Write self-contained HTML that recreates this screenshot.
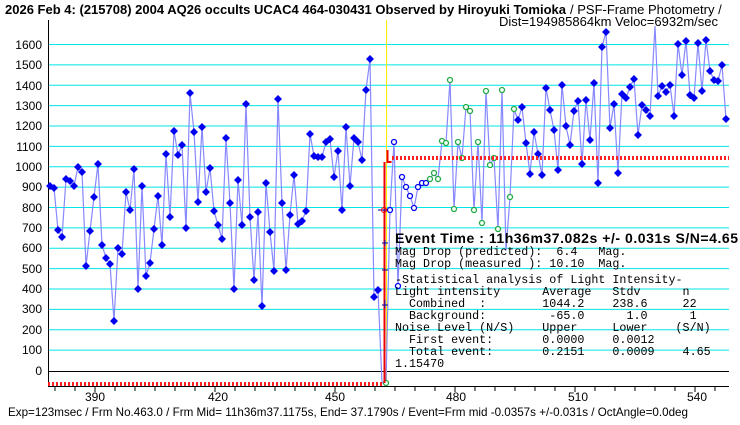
<!DOCTYPE html>
<html><head><meta charset="utf-8"><style>
body{margin:0;background:#fff;width:740px;height:425px;overflow:hidden}
svg{display:block}
text{font-family:"Liberation Sans",sans-serif}
.m text{font-family:"Liberation Mono",monospace;font-size:11.7px}
.m text.b{font-family:"Liberation Sans",sans-serif;font-size:14px;font-weight:bold}
</style></head><body>
<svg width="740" height="425" viewBox="0 0 740 425" xmlns="http://www.w3.org/2000/svg">
<rect width="740" height="425" fill="#fff"/>
<text x="5" y="14" font-size="13" font-weight="bold" textLength="561" lengthAdjust="spacing">2026 Feb 4: (215708) 2004 AQ26 occults UCAC4 464-030431 Observed by Hiroyuki Tomioka</text>
<text x="570" y="14" font-size="13">/ PSF-Frame Photometry /</text>
<text x="718" y="26" font-size="13" text-anchor="end">Dist=194985864km Veloc=6932m/sec</text>
<g stroke="#00e5e5" stroke-width="1">
<line x1="48" x2="729" y1="44.5" y2="44.5"/><line x1="48" x2="729" y1="64.9" y2="64.9"/><line x1="48" x2="729" y1="85.3" y2="85.3"/><line x1="48" x2="729" y1="105.6" y2="105.6"/><line x1="48" x2="729" y1="126" y2="126"/><line x1="48" x2="729" y1="146.4" y2="146.4"/><line x1="48" x2="729" y1="166.8" y2="166.8"/><line x1="48" x2="729" y1="187.1" y2="187.1"/><line x1="48" x2="729" y1="207.5" y2="207.5"/><line x1="48" x2="729" y1="227.9" y2="227.9"/><line x1="48" x2="729" y1="248.3" y2="248.3"/><line x1="48" x2="729" y1="268.6" y2="268.6"/><line x1="48" x2="729" y1="289" y2="289"/><line x1="48" x2="729" y1="309.4" y2="309.4"/><line x1="48" x2="729" y1="329.8" y2="329.8"/><line x1="48" x2="729" y1="350.1" y2="350.1"/>
</g>
<line x1="48" x2="729" y1="371.5" y2="371.5" stroke="#000"/>
<line x1="48" x2="729" y1="386.5" y2="386.5" stroke="#000"/>
<line x1="48.5" x2="48.5" y1="20" y2="386" stroke="#000"/>
<g font-size="12" text-anchor="end">
<text x="42" y="49">1600</text><text x="42" y="69">1500</text><text x="42" y="90">1400</text><text x="42" y="110">1300</text><text x="42" y="130">1200</text><text x="42" y="151">1100</text><text x="42" y="171">1000</text><text x="42" y="191">900</text><text x="42" y="212">800</text><text x="42" y="232">700</text><text x="42" y="252">600</text><text x="42" y="273">500</text><text x="42" y="293">400</text><text x="42" y="313">300</text><text x="42" y="334">200</text><text x="42" y="354">100</text><text x="42" y="375">0</text>
</g>
<g stroke="#000">
<path d="M55 387v4M75 387v4M95 387v5M115 387v4M135 387v4M155 387v4M175 387v4M195 387v4M215 387v5M235 387v4M255 387v4M275 387v4M295 387v4M315 387v4M335 387v5M355 387v4M375 387v4M395 387v4M415 387v4M435 387v4M455 387v5M475 387v4M495 387v4M515 387v4M535 387v4M555 387v4M575 387v5M595 387v4M615 387v4M635 387v4M655 387v4M675 387v4M695 387v5M715 387v4"/>
</g>
<g font-size="12" text-anchor="middle">
<text x="95" y="401">390</text><text x="218" y="401">420</text><text x="335" y="401">450</text><text x="456" y="401">480</text><text x="578" y="401">510</text><text x="697" y="401">540</text>
</g>
<text x="8" y="416" font-size="12" textLength="680" lengthAdjust="spacingAndGlyphs">Exp=123msec / Frm No.463.0 / Frm Mid= 11h36m37.1175s,  End= 37.1790s / Event=Frm mid -0.0357s +/-0.031s / OctAngle=0.0deg</text>
<line x1="386.5" x2="386.5" y1="20" y2="386" stroke="#ffee00"/>
<polyline fill="none" stroke="#8888ff" stroke-width="1.2" points="50,186 54,188 58,230 62,237 66,179 70,181 74,186 78,167 82,172 86,266 90,231 94,197 98,164 102,245 106,258 110,264 114,321 118,248 122,254 126,192 130,210 134,169 138,289 142,186 146,276 150,263 154,229 158,196 162,245 166,154 170,217 174,131 178,155 182,145 186,228 190,93 194,132 198,202 202,127 206,192 210,168 214,211 218,225 222,239 226,138 230,203 234,289 238,180 242,225 246,104 250,217 254,280 258,212 262,306 266,183 270,232 274,271 278,99 282,203 286,270 290,215 294,175 298,224 302,221 306,211 310,134 314,156 318,157 322,157 326,142 330,139 334,177 338,151 342,210 346,127 350,186 354,138 358,142 362,160 366,90 370,59 374,297 378,290 382,383 386,383 390,210 394,142 398,286 402,177 406,187 410,196 414,208 418,187 422,183 426,183 430,179 434,173 438,179 442,141 446,143 450,80 454,209 458,142 462,158 466,107 470,111 474,210 478,142 482,223 486,91 490,165 494,158 498,229 502,90 506,250 510,197 514,109 518,120 522,107 526,143 530,174 534,132 538,154 542,175 546,88 550,110 554,130 558,170 562,85 566,126 570,145 574,111 578,101 582,164 586,100 590,140 594,83 598,183 602,47 606,32 610,128 614,104 618,173 622,94 626,98 630,87 634,79 638,135 642,105 646,110 650,116 655,26 658,96 662,86 666,92 670,85 674,116 678,44 682,75 686,41 690,95 694,98 698,43 702,91 706,40 710,71 714,80 718,81 722,65 726,119"/>
<g fill="#0000ee">
<path d="M50 182l4 4-4 4-4-4zM54 184l4 4-4 4-4-4zM58 226l4 4-4 4-4-4zM62 233l4 4-4 4-4-4zM66 175l4 4-4 4-4-4zM70 177l4 4-4 4-4-4zM74 182l4 4-4 4-4-4zM78 163l4 4-4 4-4-4zM82 168l4 4-4 4-4-4zM86 262l4 4-4 4-4-4zM90 227l4 4-4 4-4-4zM94 193l4 4-4 4-4-4zM98 160l4 4-4 4-4-4zM102 241l4 4-4 4-4-4zM106 254l4 4-4 4-4-4zM110 260l4 4-4 4-4-4zM114 317l4 4-4 4-4-4zM118 244l4 4-4 4-4-4zM122 250l4 4-4 4-4-4zM126 188l4 4-4 4-4-4zM130 206l4 4-4 4-4-4zM134 165l4 4-4 4-4-4zM138 285l4 4-4 4-4-4zM142 182l4 4-4 4-4-4zM146 272l4 4-4 4-4-4zM150 259l4 4-4 4-4-4zM154 225l4 4-4 4-4-4zM158 192l4 4-4 4-4-4zM162 241l4 4-4 4-4-4zM166 150l4 4-4 4-4-4zM170 213l4 4-4 4-4-4zM174 127l4 4-4 4-4-4zM178 151l4 4-4 4-4-4zM182 141l4 4-4 4-4-4zM186 224l4 4-4 4-4-4zM190 89l4 4-4 4-4-4zM194 128l4 4-4 4-4-4zM198 198l4 4-4 4-4-4zM202 123l4 4-4 4-4-4zM206 188l4 4-4 4-4-4zM210 164l4 4-4 4-4-4zM214 207l4 4-4 4-4-4zM218 221l4 4-4 4-4-4zM222 235l4 4-4 4-4-4zM226 134l4 4-4 4-4-4zM230 199l4 4-4 4-4-4zM234 285l4 4-4 4-4-4zM238 176l4 4-4 4-4-4zM242 221l4 4-4 4-4-4zM246 100l4 4-4 4-4-4zM250 213l4 4-4 4-4-4zM254 276l4 4-4 4-4-4zM258 208l4 4-4 4-4-4zM262 302l4 4-4 4-4-4zM266 179l4 4-4 4-4-4zM270 228l4 4-4 4-4-4zM274 267l4 4-4 4-4-4zM278 95l4 4-4 4-4-4zM282 199l4 4-4 4-4-4zM286 266l4 4-4 4-4-4zM290 211l4 4-4 4-4-4zM294 171l4 4-4 4-4-4zM298 220l4 4-4 4-4-4zM302 217l4 4-4 4-4-4zM306 207l4 4-4 4-4-4zM310 130l4 4-4 4-4-4zM314 152l4 4-4 4-4-4zM318 153l4 4-4 4-4-4zM322 153l4 4-4 4-4-4zM326 138l4 4-4 4-4-4zM330 135l4 4-4 4-4-4zM334 173l4 4-4 4-4-4zM338 147l4 4-4 4-4-4zM342 206l4 4-4 4-4-4zM346 123l4 4-4 4-4-4zM350 182l4 4-4 4-4-4zM354 134l4 4-4 4-4-4zM358 138l4 4-4 4-4-4zM362 156l4 4-4 4-4-4zM366 86l4 4-4 4-4-4zM370 55l4 4-4 4-4-4zM374 293l4 4-4 4-4-4zM378 286l4 4-4 4-4-4z
M518 116l4 4-4 4-4-4zM522 103l4 4-4 4-4-4zM526 139l4 4-4 4-4-4zM530 170l4 4-4 4-4-4zM534 128l4 4-4 4-4-4zM538 150l4 4-4 4-4-4zM542 171l4 4-4 4-4-4zM546 84l4 4-4 4-4-4zM550 106l4 4-4 4-4-4zM554 126l4 4-4 4-4-4zM558 166l4 4-4 4-4-4zM562 81l4 4-4 4-4-4zM566 122l4 4-4 4-4-4zM570 141l4 4-4 4-4-4zM574 107l4 4-4 4-4-4zM578 97l4 4-4 4-4-4zM582 160l4 4-4 4-4-4zM586 96l4 4-4 4-4-4zM590 136l4 4-4 4-4-4zM594 79l4 4-4 4-4-4zM598 179l4 4-4 4-4-4zM602 43l4 4-4 4-4-4zM606 28l4 4-4 4-4-4zM610 124l4 4-4 4-4-4zM614 100l4 4-4 4-4-4zM618 169l4 4-4 4-4-4zM622 90l4 4-4 4-4-4zM626 94l4 4-4 4-4-4zM630 83l4 4-4 4-4-4zM634 75l4 4-4 4-4-4zM638 131l4 4-4 4-4-4zM642 101l4 4-4 4-4-4zM646 106l4 4-4 4-4-4zM650 112l4 4-4 4-4-4zM658 92l4 4-4 4-4-4zM662 82l4 4-4 4-4-4zM666 88l4 4-4 4-4-4zM670 81l4 4-4 4-4-4zM674 112l4 4-4 4-4-4zM678 40l4 4-4 4-4-4zM682 71l4 4-4 4-4-4zM686 37l4 4-4 4-4-4zM690 91l4 4-4 4-4-4zM694 94l4 4-4 4-4-4zM698 39l4 4-4 4-4-4zM702 87l4 4-4 4-4-4zM706 36l4 4-4 4-4-4zM710 67l4 4-4 4-4-4zM714 76l4 4-4 4-4-4zM718 77l4 4-4 4-4-4zM722 61l4 4-4 4-4-4zM726 115l4 4-4 4-4-4z"/>
</g>
<g fill="#fff" stroke="#0000ee" stroke-width="1.3">
<circle cx="390" cy="210" r="2.5"/><circle cx="394" cy="142" r="2.5"/><circle cx="398" cy="286" r="2.5"/><circle cx="402" cy="177" r="2.5"/><circle cx="406" cy="187" r="2.5"/><circle cx="410" cy="196" r="2.5"/><circle cx="414" cy="208" r="2.5"/><circle cx="418" cy="187" r="2.5"/><circle cx="422" cy="183" r="2.5"/><circle cx="426" cy="183" r="2.5"/>
</g>
<g fill="#fff" stroke="#22aa44" stroke-width="1.3">
<circle cx="386" cy="383" r="2.5"/><circle cx="430" cy="179" r="2.5"/><circle cx="434" cy="173" r="2.5"/><circle cx="438" cy="179" r="2.5"/><circle cx="442" cy="141" r="2.5"/><circle cx="446" cy="143" r="2.5"/><circle cx="450" cy="80" r="2.5"/><circle cx="454" cy="209" r="2.5"/><circle cx="458" cy="142" r="2.5"/><circle cx="462" cy="158" r="2.5"/><circle cx="466" cy="107" r="2.5"/><circle cx="470" cy="111" r="2.5"/><circle cx="474" cy="210" r="2.5"/><circle cx="478" cy="142" r="2.5"/><circle cx="482" cy="223" r="2.5"/><circle cx="486" cy="91" r="2.5"/><circle cx="490" cy="165" r="2.5"/><circle cx="494" cy="158" r="2.5"/><circle cx="498" cy="229" r="2.5"/><circle cx="502" cy="90" r="2.5"/><circle cx="510" cy="197" r="2.5"/><circle cx="514" cy="109" r="2.5"/>
</g>
<line x1="48" x2="382" y1="384" y2="384" stroke="#ff2222" stroke-width="4" stroke-dasharray="2 2"/>
<line x1="392" x2="729" y1="158" y2="158" stroke="#ff2222" stroke-width="4" stroke-dasharray="2 2"/>
<path d="M384.5 383V162M387.5 150v12h4" stroke="#ee0000" stroke-width="2" fill="none"/>
<path d="M378 210h10M382 243h6M385 240v6M382 270h6M382 305h6M385 300v8" stroke="#0000aa" stroke-width="1"/>
<circle cx="384" cy="210" r="2.5" fill="none" stroke="#ee0000"/>
<g class="m">
<text class="b" x="395" y="243" textLength="343" lengthAdjust="spacing">Event Time : 11h36m37.082s  +/- 0.031s  S/N=4.65</text>
<text x="395" y="255" xml:space="preserve">Mag Drop (predicted):  6.4   Mag.</text>
<text x="395" y="267" xml:space="preserve">Mag Drop (measured ): 10.10  Mag.</text>
<text x="395" y="283" xml:space="preserve">-Statistical analysis of Light Intensity-</text>
<text x="395" y="295" xml:space="preserve">Light intensity      Average   Stdv      n</text>
<text x="395" y="307" xml:space="preserve">  Combined  :        1044.2    238.6     22</text>
<text x="395" y="319" xml:space="preserve">  Background:         -65.0      1.0      1</text>
<text x="395" y="331" xml:space="preserve">Noise Level (N/S)    Upper     Lower    (S/N)</text>
<text x="395" y="343" xml:space="preserve">  First event:       0.0000    0.0012</text>
<text x="395" y="355" xml:space="preserve">  Total event:       0.2151    0.0009    4.65</text>
<text x="395" y="367" xml:space="preserve">1.15470</text>
</g>
</svg>
</body></html>
